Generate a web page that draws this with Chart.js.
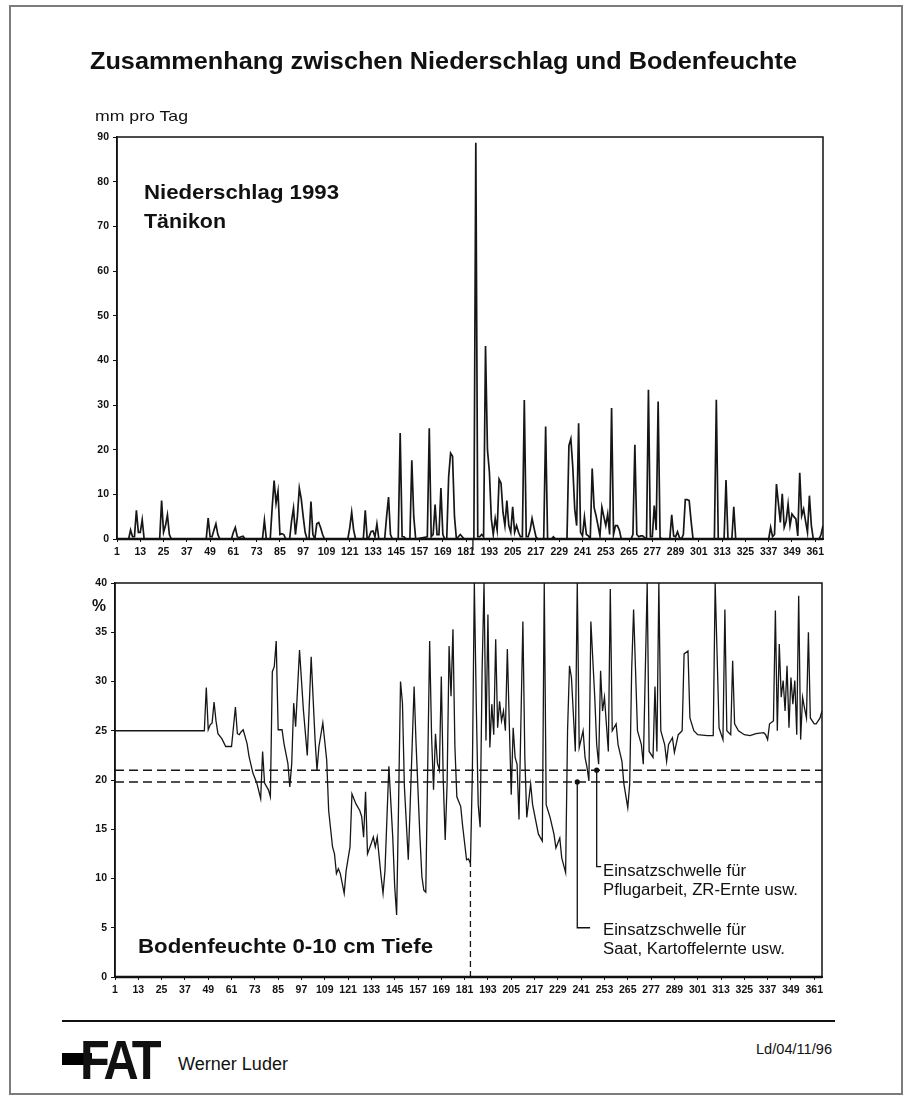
<!DOCTYPE html>
<html><head><meta charset="utf-8">
<script src="https://cdn.jsdelivr.net/npm/chart.js@4.4.1/dist/chart.umd.min.js"></script>
<style>
html,body{margin:0;padding:0;background:#fff;}
body{width:909px;height:1101px;position:relative;overflow:hidden;font-family:"Liberation Sans",Arial,sans-serif;color:#111;}
.t{position:absolute;white-space:nowrap;transform-origin:0 0;line-height:1;color:#111;}
#frame{position:absolute;left:9px;top:5px;width:894px;height:1090px;border:2px solid #7c7c7c;box-sizing:border-box;}
#rule{position:absolute;left:62px;top:1019.5px;width:773px;height:2px;background:#111;}
#bar{position:absolute;left:62px;top:1053px;width:30px;height:12px;background:#000;}
canvas{position:absolute;left:0;}
</style></head><body>
<div id="frame"></div>
<canvas id="c1" width="909" height="575" style="top:0px"></canvas>
<canvas id="c2" width="909" height="460" style="top:560px"></canvas>
<div id="rule"></div>
<div id="bar"></div>
<script>
// ---------- data ----------
const xTickDays = [1,13,25,37,49,61,73,85,97,109,121,133,145,157,169,181,193,205,217,229,241,253,265,277,289,301,313,325,337,349,361];
const precipTicks = [0,10,20,30,40,50,60,70,80,90];
const soilTicks = [0,5,10,15,20,25,30,35,40];

const precipDay = [1,7,8,9,10,11,12,13,14,15,
 23,24,25,26,27,28,29,
 47,48,49,50,51,52,53,54,
 60,61,62,63,64,65,66,67,
 76,77,78,
 80,81,82,83,84,85,86,87,88,
 90,91,92,93,94,95,96,97,98,99,
 100,101,102,103,104,105,106,107,108,
 120,121,122,123,124,
 128,129,130,131,132,133,134,135,136,
 139,140,141,142,143,
 146,147,148,149,150,
 152,153,154,155,
 161,162,163,164,165,166,167,168,169,170,
 171,172,173,174,175,176,
 177,178,179,180,
 185,186,187,188,189,190,191,192,193,194,195,196,197,198,199,200,201,202,203,204,205,206,207,208,209,210,211,212,213,214,215,216,217,218,
 221,222,223,225,226,227,
 233,234,235,236,237,238,239,240,241,242,243,244,245,246,247,248,249,250,251,252,253,254,255,256,257,258,259,260,261,
 266,267,268,269,270,271,272,273,274,275,276,277,278,279,280,281,282,
 286,287,288,289,290,291,292,293,294,295,296,297,298,
 309,310,311,314,315,316,318,319,320,
 337,338,339,340,341,342,343,344,345,346,347,348,349,350,351,352,353,354,355,356,357,358,359,360,363,364,365];
const precipMm = [0,0,2,0.5,0.5,6.4,1.5,1.5,4.3,0,
 0,8.6,1.5,3,5.4,1,0,
 0,4.7,0.5,0.5,2,3.4,1,0,
 0,1.5,2.6,0.5,0.3,0.5,0.6,0,
 0,4.2,0,
 0,7,13.1,8,10.7,1,1.2,1,0,
 0,4,6.9,1,5,11.4,9,5,1.5,0,
 0,8.4,1,0,3.4,3.7,2.5,1,0,
 0,2.5,6,2,0,
 0,6.4,0,0.5,1.7,1.8,0.5,3.4,0,
 0,5,9.4,1,0,
 0,23.7,0.5,0.5,0,
 0,17.6,5,0,
 0.5,24.8,0.5,1,7.7,1,1,11.4,1,0,
 0,14,19.2,18.5,5,0,
 0.5,1,0.5,0,
 0,88.7,0.5,0.5,1,0.5,43.2,20,15,4.5,1,4.6,2,13.4,12.5,6,3,8.6,3,1.5,7.2,1.5,3,1.5,0.5,0.5,31.1,0.5,0.5,2,4.6,2.5,0.5,0,
 0,25.2,0,0,0.5,0,
 0,20.9,22.4,16,6.7,3,25.9,1.5,0.7,4.9,1,0.7,0,15.8,7,5.2,3,0.7,7.1,5,3,5.6,1,29.3,1,3,3,2,0,
 0,1,21.1,1,0.5,0.7,0.7,0.3,0,33.4,0.5,0.5,7.5,2,30.8,0.3,0,
 0,5.4,0.7,0.5,1.6,0.3,0,1,8.8,8.8,8.6,4,0,
 0,31.2,0,0,13.2,0,0,7.2,0,
 0,2.6,0.5,1,12.3,8,3.7,10.1,2.6,4,7.8,3,5.6,5,4.5,0.7,14.8,5.2,6.7,4,1.5,9.7,3,0,0,1,3];

const soilDay = [1,47,48,49,50,51,52,53,54,56,58,61,63,64,65,66,67,69,70,72,74,76,77,78,80,81,82,83,84,85,87,88,90,91,92,93,94,96,98,100,
 102,104,105,106,108,110,111,113,114,115,116,117,119,120,122,123,125,127,128,129,130,131,133,134,135,136,137,138,139,140,
 142,144,145,146,147,148,149,150,152,153,155,156,158,159,160,161,163,164,165,166,167,168,169,170,171,172,173,174,175,176,
 177,179,180,182,183,184,185,186,187,188,189,190,191,192,193,194,195,196,197,198,199,200,201,202,203,204,205,206,207,208,
 209,211,212,213,215,216,218,219,221,222,223,225,227,228,230,231,233,234,235,236,238,239,240,242,243,244,245,246,248,249,
 250,251,252,253,255,256,257,259,260,262,263,265,266,267,268,270,271,272,273,275,276,278,279,280,281,282,284,285,286,288,
 289,291,292,293,294,296,297,299,301,306,309,310,312,314,315,316,318,319,320,322,325,328,331,335,336,337,338,340,341,342,
 343,344,345,346,347,348,349,350,351,352,353,354,355,356,357,358,359,361,362,364,365];
const soilPct = [25,25,29.4,25.1,25.6,25.8,27.9,26,24.7,24.2,23.4,23.4,27.4,24.7,24.6,24.9,25.1,23.7,22.4,20.7,19.7,18.1,22.9,19.7,19,18.3,31,31.5,34.1,25.1,25.1,23.7,21.7,19.3,21.7,27.8,25.4,33.2,27.1,22.5,
 32.5,24.1,21,23.4,25.8,22,16.9,13.2,12.5,10.5,11,10.5,8.5,10.8,13.2,18.6,17.6,16.9,16.3,14.2,18.8,12.5,13.6,14.2,13.2,14.2,12.2,10.2,8.5,10.8,
 21.4,14.2,9.2,6.3,17.6,30,27.8,19.3,11.9,17.6,29.5,23.7,14.2,10.2,8.8,8.6,34.1,24.4,19,24.7,21.7,21,30.5,20,13.9,19.7,33.6,28.5,35.3,23.4,
 18.3,17.3,15.3,11.9,12,11.5,20.9,40,27.7,17.5,15.2,31,40,24,36.8,23.3,27.7,24.6,34.3,25.3,28,26,27,25,33.3,25.7,18.5,25.3,22.3,21.6,
 16,36.1,22.3,16.2,19.6,17.5,15.5,14.5,13.8,40,17.5,16.2,14.5,13.1,14.1,12.1,10.6,25,31.6,30.4,22.9,40,23.3,25,22.3,21.3,19.9,36.1,28.4,23.6,
 21.6,31.1,27,28.4,22.9,39.4,25,25.7,23.6,21.9,19.6,17.2,19.6,31.1,37.3,25,24.3,23.6,21.6,40,22.9,22.3,29.5,22.9,40,25,23.6,21.9,23.6,24.3,
 22.8,24.6,24.8,25,32.8,33.1,26.3,25,24.6,24.5,24.5,40,25.3,24.1,37.3,25,24.6,32.1,25.7,25,24.6,24.5,24.7,24.8,24.6,24.1,25.7,26,37.2,25,
 33.8,28.4,30.1,27,31.6,25.3,30.4,27.7,30.1,24.6,38.7,24.1,28.4,27.3,26.3,35,26.3,25.7,25.7,26.3,27];

const thresholds = [21, 19.8];   // Einsatzschwellen (%)
const markerDay = 184;           // dashed marker
const markerTop = 11.5;

// annotation geometry (not data)
const callouts = [
  {day:249, level:21,   downTo:11.2, rightTo:251.3},
  {day:239, level:19.8, downTo:5.0,  rightTo:245.6}
];

// ---------- texts ----------
function label(txt, x, base, size, weight, width){
  const d=document.createElement('div'); d.className='t'; d.textContent=txt;
  d.style.font=weight+' '+size+'px "Liberation Sans", Arial, sans-serif';
  d.style.left=x+'px'; d.style.top=(base-0.86*size)+'px';
  document.body.appendChild(d);
  const w=d.getBoundingClientRect().width;
  if(width) d.style.transform='scaleX('+(width/w)+')';
  return d;
}
label('Zusammenhang zwischen Niederschlag und Bodenfeuchte', 90, 68, 24, 'bold', 707);
label('mm pro Tag', 95, 120, 15, 'normal', 93);
label('Niederschlag 1993', 144, 198, 21, 'bold', 195);
label('Tänikon', 144, 227, 21, 'bold', 82);
label('%', 92, 611, 16, 'bold', 14);
label('Bodenfeuchte 0-10 cm Tiefe', 138, 952, 21, 'bold', 295);
label('Einsatzschwelle für', 603, 876, 16, 'normal', 143);
label('Pflugarbeit, ZR-Ernte usw.', 603, 895, 16, 'normal', 195);
label('Einsatzschwelle für', 603, 935, 16, 'normal', 143);
label('Saat, Kartoffelernte usw.', 603, 954, 16, 'normal', 182);
label('Werner Luder', 178, 1069, 18, 'normal', 110);
label('Ld/04/11/96', 756, 1053, 14, 'normal', 76);
const fat = label('FAT', 80, 1075, 56, '900', 78);
fat.style.letterSpacing='-4px';
fat.style.transform='';
fat.style.transform='scaleX('+(78/fat.getBoundingClientRect().width)+')';

// ---------- charts ----------
const FONT = '"Liberation Sans", Arial, sans-serif';
const frame = {id:'frame', afterDatasetsDraw(chart){
  const a=chart.chartArea, c=chart.ctx; c.save(); c.strokeStyle='#111'; c.lineWidth=1.5;
  c.strokeRect(a.left, a.top, a.right-a.left, a.bottom-a.top);
  c.lineWidth=2.5; c.beginPath(); c.moveTo(a.left, a.bottom); c.lineTo(a.right, a.bottom); c.stroke();
  c.restore();
}};
const calloutPlugin = {id:'callout', afterDatasetsDraw(chart){
  const x=chart.scales.x, y=chart.scales.y, c=chart.ctx; c.save();
  c.strokeStyle='#111'; c.fillStyle='#111'; c.lineWidth=1.3;
  callouts.forEach(o=>{
    const px=x.getPixelForValue(o.day), py=y.getPixelForValue(o.level);
    c.beginPath(); c.moveTo(px,py); c.lineTo(px,y.getPixelForValue(o.downTo)); c.lineTo(x.getPixelForValue(o.rightTo), y.getPixelForValue(o.downTo)); c.stroke();
    c.beginPath(); c.arc(px,py,2.6,0,Math.PI*2); c.fill();
  });
  c.restore();
}};

function xScale(h){
  return {type:'linear', min:1, max:365,
    afterBuildTicks:s=>{s.ticks=xTickDays.map(v=>({value:v}));},
    afterFit:s=>{s.height=h;},
    ticks:{autoSkip:false, maxRotation:0, padding:4, color:'#111', font:{family:FONT,size:10.5,weight:'bold'}},
    grid:{display:true, drawOnChartArea:false, drawTicks:true, tickLength:3, color:'#111', lineWidth:1},
    border:{display:true, color:'#111', width:2}};
}
function yScale(w, max, ticks){
  return {type:'linear', min:0, max:max,
    afterBuildTicks:s=>{s.ticks=ticks.map(v=>({value:v}));},
    afterFit:s=>{s.width=w;},
    ticks:{padding:4, color:'#111', font:{family:FONT,size:10.5,weight:'bold'}},
    grid:{display:true, drawOnChartArea:false, drawTicks:true, tickLength:4, color:'#111', lineWidth:1},
    border:{display:true, color:'#111', width:1.5}};
}
const common = {responsive:false, animation:false, events:[],
  plugins:{legend:{display:false}, tooltip:{enabled:false}},
  elements:{point:{radius:0}, line:{tension:0}}};

new Chart(document.getElementById('c1'), {type:'line',
  data:{datasets:[
    {data:precipDay.map((d,i)=>({x:d,y:precipMm[i]})), borderColor:'#161616', borderWidth:1.7},
    {data:[{x:markerDay+0.5,y:0},{x:markerDay+0.5,y:-2.6}], borderColor:'#161616', borderWidth:1.3, clip:false}
  ]},
  options:Object.assign({}, common, {
    layout:{padding:{left:0, top:137, right:86, bottom:0}},
    scales:{x:xScale(36), y:yScale(117, 90, precipTicks)}
  }),
  plugins:[frame]
});

new Chart(document.getElementById('c2'), {type:'line',
  data:{datasets:[
    {data:soilDay.map((d,i)=>({x:d,y:soilPct[i]})), borderColor:'#161616', borderWidth:1.3},
    {data:[{x:1,y:thresholds[0]},{x:365,y:thresholds[0]}], borderColor:'#161616', borderWidth:1.5, borderDash:[9,5]},
    {data:[{x:1,y:thresholds[1]},{x:365,y:thresholds[1]}], borderColor:'#161616', borderWidth:1.5, borderDash:[9,5]},
    {data:[{x:markerDay,y:0},{x:markerDay,y:markerTop}], borderColor:'#161616', borderWidth:1.3, borderDash:[6,4]}
  ]},
  options:Object.assign({}, common, {
    layout:{padding:{left:0, top:23, right:87, bottom:0}},
    scales:{x:xScale(43), y:yScale(115, 40, soilTicks)}
  }),
  plugins:[frame, calloutPlugin]
});
</script>
</body></html>
